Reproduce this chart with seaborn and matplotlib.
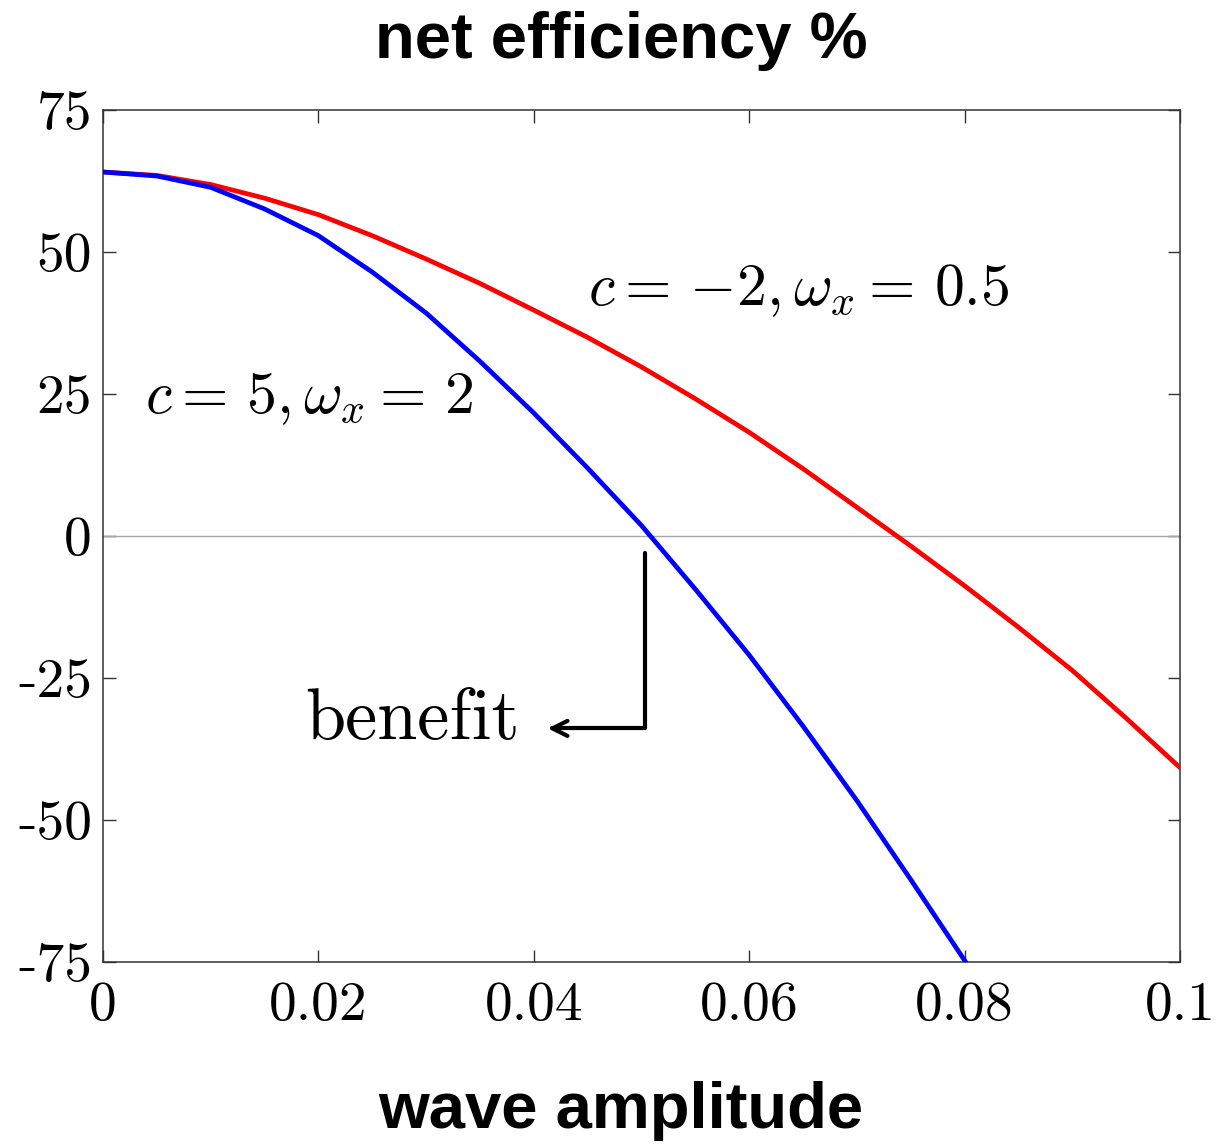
import matplotlib
matplotlib.use("Agg")
import matplotlib.pyplot as plt
import seaborn as sns
import pandas as pd
import numpy as np

# ---- data ----
amp_red = [0.0, 0.005, 0.01, 0.015, 0.02, 0.025, 0.03, 0.035, 0.04, 0.045, 0.05,
           0.055, 0.06, 0.065, 0.07, 0.075, 0.08, 0.085, 0.09, 0.095, 0.10]
eff_red = [64.0, 63.4, 61.8, 59.4, 56.5, 52.8, 48.7, 44.4, 39.7, 34.9, 29.7,
           24.1, 18.2, 11.8, 5.0, -1.8, -8.8, -16.1, -23.7, -32.1, -40.8]
amp_blue = [0.0, 0.005, 0.01, 0.015, 0.02, 0.025, 0.03, 0.035, 0.04, 0.045, 0.05,
            0.055, 0.06, 0.065, 0.07, 0.075, 0.0801]
eff_blue = [64.0, 63.3, 61.3, 57.5, 52.8, 46.4, 39.2, 30.7, 21.6, 11.9, 1.8,
            -9.4, -21.0, -33.5, -46.6, -60.5, -75.0]

xticks = [0.0, 0.02, 0.04, 0.06, 0.08, 0.10]
xticklabels = ["0", "0.02", "0.04", "0.06", "0.08", "0.1"]
yticks = [75, 50, 25, 0, -25, -50, -75]
yticklabels = ["75", "50", "25", "0", "-25", "-50", "-75"]

title = "net efficiency %"
xlabel = "wave amplitude"
label_red = r"$c=\,{-2},\omega_x=\,0.5$"
label_blue = r"$c=\,5,\omega_x=\,2$"
benefit = "benefit"

sns.set_theme(style="white")
plt.rcParams["mathtext.fontset"] = "cm"
plt.rcParams["font.family"] = ["Liberation Sans", "DejaVu Sans"]
plt.rcParams["text.color"] = "black"

fig = plt.figure(figsize=(12.32, 11.46), dpi=100)
ax = fig.add_axes([103/1232, 1-962/1146, (1180-103)/1232, (962-109.5)/1146])

df_r = pd.DataFrame({"amp": amp_red, "eff": eff_red})
df_b = pd.DataFrame({"amp": amp_blue, "eff": eff_blue})

ax.axhline(0, color="#a8a4b4", lw=1.0, zorder=1)
sns.lineplot(data=df_r, x="amp", y="eff", ax=ax, color="#ff0000", linewidth=3.4, zorder=3)
sns.lineplot(data=df_b, x="amp", y="eff", ax=ax, color="#0000ff", linewidth=3.4, zorder=3)

ax.set_xlim(0, 0.1)
ax.set_ylim(-75, 75)
ax.set_xlabel("")
ax.set_ylabel("")
ax.set_xticks(xticks)
ax.set_xticklabels(xticklabels, fontfamily="cmr10", fontsize=40, color="black")
ax.set_yticks(yticks)
ax.set_yticklabels(yticklabels, fontfamily="cmr10", fontsize=40, color="black")
ax.tick_params(axis="both", direction="in", length=9, width=1.0, color="#333333",
               top=True, right=True, bottom=True, left=True)
ax.tick_params(axis="x", pad=14)
ax.tick_params(axis="y", pad=8)
for s in ax.spines.values():
    s.set_color("#333333")
    s.set_linewidth(1.1)

ax.text(0.045, 40.6, label_red, fontsize=43, ha="left", va="baseline", color="black")
ax.text(0.0039, 21.6, label_blue, fontsize=43, ha="left", va="baseline", color="black")
ax.text(0.0188, -35.7, benefit, fontsize=52, ha="left", va="baseline",
        fontfamily="cmr10", color="black")
ax.annotate("", xy=(0.0413, -33.9), xytext=(0.0503, -3.1),
            arrowprops=dict(arrowstyle="->,head_length=0.9,head_width=0.45", lw=3, color="black",
                            connectionstyle="angle,angleA=90,angleB=0,rad=0",
                            shrinkA=0, shrinkB=0))

fig.text(0.504, 1-58/1146, title, fontsize=47, fontweight="bold", ha="center",
         va="baseline", color="black")
fig.text(0.504, 1-1128/1146, xlabel, fontsize=47, fontweight="bold", ha="center",
         va="baseline", color="black")

fig.savefig("out.png", dpi=100)
